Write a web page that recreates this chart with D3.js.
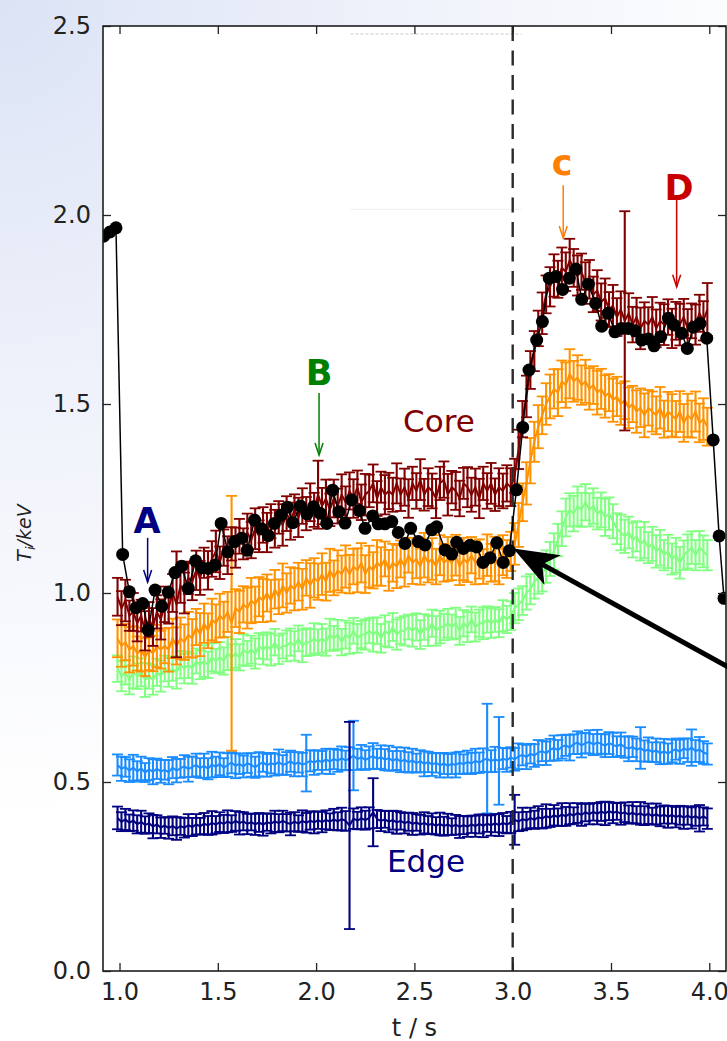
<!DOCTYPE html>
<html><head><meta charset="utf-8">
<script src="https://cdn.jsdelivr.net/npm/d3@7"></script>
<style>html,body{margin:0;padding:0;background:#fff;}svg{display:block;font-family:"DejaVu Sans",sans-serif;}</style>
</head><body><svg id="chart" width="727" height="1041"></svg>
<script>
// ---------------- DATA ----------------
const times = [
0.99,1.01,1.03,1.05,1.07,1.09,1.11,1.13,1.15,1.17,
1.19,1.21,1.23,1.25,1.27,1.29,1.31,1.33,1.35,1.37,
1.39,1.41,1.43,1.45,1.47,1.49,1.51,1.53,1.55,1.57,
1.59,1.61,1.63,1.65,1.67,1.69,1.71,1.73,1.75,1.77,
1.79,1.81,1.83,1.85,1.87,1.89,1.91,1.93,1.95,1.97,
1.99,2.01,2.03,2.05,2.07,2.09,2.11,2.13,2.15,2.17,
2.19,2.21,2.23,2.25,2.27,2.29,2.31,2.33,2.35,2.37,
2.39,2.41,2.43,2.45,2.47,2.49,2.51,2.53,2.55,2.57,
2.59,2.61,2.63,2.65,2.67,2.69,2.71,2.73,2.75,2.77,
2.79,2.81,2.83,2.85,2.87,2.89,2.91,2.93,2.95,2.97,
2.99,3.01,3.03,3.05,3.07,3.09,3.11,3.13,3.15,3.17,
3.19,3.21,3.23,3.25,3.27,3.29,3.31,3.33,3.35,3.37,
3.39,3.41,3.43,3.45,3.47,3.49,3.51,3.53,3.55,3.57,
3.59,3.61,3.63,3.65,3.67,3.69,3.71,3.73,3.75,3.77,
3.79,3.81,3.83,3.85,3.87,3.89,3.91,3.93,3.95,3.97,
3.99];

const coreValues = [
0.99,0.96,0.98,0.94,0.95,0.92,0.94,0.90,0.93,0.91,
0.95,0.93,0.97,0.96,1.00,0.97,1.02,1.00,1.04,1.03,
1.06,1.04,1.08,1.06,1.09,1.11,1.08,1.12,1.10,1.13,
1.12,1.15,1.13,1.16,1.14,1.17,1.15,1.18,1.16,1.19,
1.17,1.20,1.18,1.21,1.19,1.22,1.20,1.23,1.21,1.24,
1.22,1.26,1.23,1.25,1.22,1.25,1.23,1.26,1.24,1.27,
1.25,1.28,1.24,1.26,1.27,1.29,1.25,1.28,1.26,1.27,
1.26,1.29,1.26,1.28,1.25,1.29,1.27,1.30,1.26,1.28,
1.27,1.25,1.29,1.30,1.26,1.28,1.27,1.25,1.29,1.28,
1.26,1.28,1.25,1.29,1.27,1.29,1.26,1.28,1.27,1.29,
1.28,1.31,1.38,1.46,1.52,1.59,1.64,1.70,1.74,1.79,
1.81,1.84,1.83,1.86,1.85,1.88,1.86,1.84,1.85,1.82,
1.83,1.79,1.80,1.77,1.78,1.75,1.76,1.73,1.75,1.72,
1.74,1.71,1.73,1.70,1.72,1.71,1.73,1.70,1.72,1.71,
1.73,1.70,1.72,1.71,1.73,1.70,1.72,1.71,1.74,1.72,
1.75];
const coreErrors = [
0.05,0.045,0.055,0.04,0.05,0.048,0.042,0.052,0.046,0.05,
0.044,0.053,0.047,0.041,0.05,0.14,0.046,0.054,0.043,0.049,
0.052,0.045,0.04,0.051,0.047,0.055,0.043,0.048,0.05,0.044,
0.053,0.046,0.041,0.05,0.048,0.054,0.042,0.047,0.052,0.045,
0.05,0.043,0.055,0.046,0.049,0.041,0.052,0.047,0.044,0.05,
0.045,0.09,0.048,0.05,0.043,0.05,0.046,0.054,0.042,0.049,
0.051,0.044,0.047,0.055,0.043,0.05,0.046,0.041,0.052,0.048,
0.045,0.053,0.043,0.049,0.051,0.044,0.047,0.054,0.042,0.05,
0.046,0.052,0.044,0.048,0.055,0.043,0.05,0.047,0.041,0.053,
0.045,0.049,0.052,0.044,0.047,0.054,0.043,0.05,0.046,0.048,
0.05,0.045,0.052,0.048,0.055,0.05,0.053,0.047,0.055,0.05,
0.052,0.056,0.049,0.054,0.051,0.057,0.05,0.053,0.048,0.055,
0.051,0.047,0.054,0.049,0.052,0.046,0.055,0.05,0.048,0.29,
0.053,0.047,0.051,0.055,0.049,0.046,0.053,0.05,0.048,0.054,
0.047,0.052,0.05,0.055,0.048,0.051,0.046,0.053,0.049,0.052,
0.07];

const orangeValues = [
0.88,0.86,0.87,0.85,0.86,0.84,0.85,0.83,0.85,0.84,
0.86,0.85,0.86,0.85,0.88,0.86,0.88,0.87,0.89,0.88,
0.91,0.89,0.92,0.90,0.93,0.92,0.94,0.93,0.95,0.92,
0.96,0.95,0.97,0.96,0.98,0.97,0.99,0.98,1.00,0.98,
1.01,0.99,1.02,1.00,1.02,1.01,1.03,1.01,1.04,1.02,
1.04,1.03,1.05,1.03,1.06,1.04,1.06,1.05,1.07,1.05,
1.07,1.06,1.08,1.05,1.07,1.06,1.08,1.07,1.09,1.06,
1.08,1.07,1.09,1.07,1.10,1.08,1.09,1.07,1.10,1.08,
1.09,1.07,1.10,1.08,1.09,1.08,1.10,1.07,1.09,1.08,
1.10,1.08,1.09,1.07,1.10,1.08,1.09,1.07,1.10,1.09,
1.11,1.13,1.18,1.24,1.29,1.35,1.40,1.44,1.47,1.50,
1.52,1.54,1.53,1.56,1.55,1.58,1.56,1.57,1.55,1.56,
1.54,1.55,1.53,1.54,1.52,1.53,1.51,1.52,1.50,1.51,
1.49,1.50,1.48,1.49,1.47,1.49,1.48,1.47,1.49,1.46,
1.48,1.47,1.46,1.48,1.45,1.47,1.46,1.48,1.45,1.46,
1.44];
const orangeErrors = [
0.05,0.055,0.048,0.06,0.052,0.045,0.058,0.05,0.054,0.047,
0.056,0.05,0.046,0.058,0.052,0.049,0.055,0.047,0.06,0.051,
0.048,0.057,0.052,0.046,0.055,0.05,0.058,0.047,0.053,0.337,
0.05,0.056,0.048,0.054,0.06,0.047,0.052,0.057,0.049,0.055,
0.051,0.046,0.058,0.052,0.048,0.056,0.05,0.054,0.047,0.059,
0.052,0.048,0.055,0.05,0.057,0.046,0.053,0.049,0.056,0.051,
0.047,0.058,0.052,0.05,0.055,0.048,0.06,0.051,0.046,0.054,
0.05,0.057,0.049,0.053,0.046,0.056,0.051,0.048,0.059,0.052,
0.055,0.047,0.053,0.05,0.058,0.046,0.054,0.049,0.056,0.051,
0.048,0.057,0.052,0.046,0.055,0.05,0.059,0.047,0.053,0.05,
0.052,0.055,0.058,0.05,0.056,0.06,0.053,0.057,0.05,0.055,
0.058,0.052,0.062,0.055,0.06,0.065,0.054,0.059,0.052,0.057,
0.055,0.05,0.058,0.053,0.056,0.049,0.057,0.052,0.055,0.05,
0.054,0.048,0.056,0.051,0.058,0.047,0.053,0.05,0.055,0.049,
0.052,0.056,0.048,0.054,0.05,0.057,0.049,0.053,0.051,0.055,
0.05];

const greenValues = [
0.80,0.78,0.79,0.77,0.79,0.78,0.79,0.77,0.78,0.77,
0.79,0.78,0.80,0.79,0.80,0.79,0.81,0.80,0.81,0.80,
0.82,0.81,0.82,0.81,0.83,0.82,0.83,0.82,0.84,0.83,
0.84,0.83,0.85,0.84,0.85,0.84,0.86,0.85,0.86,0.85,
0.87,0.85,0.86,0.86,0.87,0.86,0.88,0.86,0.87,0.87,
0.88,0.87,0.88,0.87,0.89,0.88,0.89,0.87,0.89,0.88,
0.90,0.88,0.89,0.89,0.90,0.89,0.90,0.88,0.90,0.89,
0.91,0.89,0.90,0.90,0.91,0.90,0.91,0.89,0.91,0.90,
0.92,0.90,0.91,0.91,0.92,0.91,0.92,0.90,0.92,0.91,
0.93,0.91,0.92,0.92,0.93,0.92,0.93,0.92,0.94,0.93,
0.94,0.96,0.97,0.98,1.00,1.01,1.03,1.04,1.05,1.07,
1.09,1.11,1.14,1.17,1.20,1.22,1.21,1.23,1.22,1.24,
1.22,1.23,1.21,1.22,1.20,1.21,1.19,1.17,1.16,1.15,
1.16,1.14,1.15,1.13,1.14,1.12,1.13,1.11,1.12,1.10,
1.11,1.09,1.10,1.08,1.10,1.11,1.12,1.10,1.12,1.11,
1.10];
const greenErrors = [
0.035,0.04,0.032,0.038,0.042,0.034,0.037,0.045,0.033,0.039,
0.036,0.041,0.034,0.038,0.032,0.043,0.036,0.039,0.035,0.04,
0.033,0.038,0.042,0.035,0.037,0.032,0.04,0.036,0.044,0.034,
0.038,0.035,0.041,0.033,0.037,0.04,0.034,0.039,0.036,0.042,
0.035,0.038,0.033,0.041,0.036,0.039,0.034,0.043,0.037,0.035,
0.04,0.034,0.038,0.036,0.042,0.033,0.039,0.035,0.037,0.041,
0.034,0.038,0.036,0.04,0.033,0.045,0.035,0.038,0.041,0.034,
0.037,0.04,0.035,0.039,0.033,0.042,0.036,0.038,0.034,0.04,
0.036,0.039,0.043,0.035,0.038,0.033,0.041,0.037,0.035,0.04,
0.034,0.038,0.036,0.042,0.035,0.039,0.033,0.037,0.041,0.036,
0.038,0.04,0.042,0.038,0.044,0.04,0.045,0.042,0.046,0.043,
0.045,0.048,0.043,0.046,0.05,0.044,0.047,0.052,0.045,0.048,
0.044,0.047,0.042,0.046,0.049,0.043,0.045,0.041,0.047,0.044,
0.042,0.046,0.04,0.044,0.048,0.041,0.045,0.043,0.047,0.04,
0.044,0.041,0.046,0.042,0.039,0.045,0.043,0.04,0.044,0.042,
0.04];

const blueValues = [
0.545,0.535,0.540,0.530,0.538,0.528,0.536,0.525,0.534,0.527,
0.535,0.528,0.532,0.526,0.538,0.530,0.536,0.542,0.534,0.540,
0.545,0.537,0.543,0.535,0.546,0.540,0.548,0.538,0.545,0.551,
0.543,0.548,0.541,0.550,0.545,0.539,0.547,0.552,0.544,0.550,
0.546,0.553,0.545,0.549,0.555,0.547,0.552,0.546,0.550,0.556,
0.551,0.558,0.552,0.560,0.554,0.561,0.556,0.563,0.557,0.562,
0.570,0.560,0.566,0.558,0.564,0.569,0.561,0.566,0.559,0.563,
0.556,0.562,0.554,0.559,0.552,0.557,0.550,0.555,0.548,0.553,
0.546,0.551,0.544,0.549,0.543,0.548,0.545,0.551,0.547,0.553,
0.549,0.556,0.551,0.558,0.562,0.555,0.560,0.556,0.562,0.558,
0.565,0.560,0.568,0.572,0.566,0.575,0.570,0.578,0.582,0.576,
0.585,0.590,0.584,0.593,0.597,0.591,0.600,0.604,0.597,0.603,
0.606,0.599,0.605,0.601,0.596,0.603,0.598,0.594,0.600,0.592,
0.588,0.593,0.585,0.590,0.582,0.586,0.579,0.584,0.576,0.581,
0.575,0.582,0.587,0.580,0.589,0.584,0.591,0.582,0.586,0.578,
0.574];
const blueErrors = [
0.028,0.032,0.026,0.03,0.034,0.027,0.031,0.025,0.029,0.033,
0.027,0.03,0.026,0.032,0.028,0.031,0.025,0.029,0.033,0.027,
0.03,0.026,0.032,0.028,0.034,0.027,0.03,0.025,0.031,0.028,
0.033,0.027,0.029,0.026,0.031,0.028,0.032,0.025,0.03,0.027,
0.029,0.033,0.026,0.03,0.028,0.032,0.027,0.031,0.075,0.028,
0.032,0.026,0.03,0.028,0.033,0.027,0.029,0.031,0.026,0.03,
0.092,0.028,0.032,0.026,0.03,0.034,0.027,0.031,0.028,0.033,
0.026,0.03,0.028,0.032,0.027,0.031,0.025,0.029,0.033,0.027,
0.03,0.026,0.032,0.028,0.031,0.027,0.033,0.029,0.026,0.03,
0.028,0.032,0.027,0.031,0.145,0.029,0.033,0.116,0.028,0.031,
0.027,0.03,0.034,0.028,0.032,0.026,0.03,0.033,0.027,0.031,
0.029,0.033,0.027,0.031,0.028,0.034,0.026,0.03,0.032,0.027,
0.031,0.028,0.033,0.026,0.03,0.029,0.032,0.027,0.031,0.028,
0.033,0.027,0.03,0.055,0.028,0.032,0.026,0.031,0.029,0.033,
0.027,0.03,0.028,0.032,0.026,0.031,0.048,0.029,0.033,0.03,
0.028];

const edgeValues = [
0.405,0.395,0.401,0.392,0.398,0.388,0.395,0.386,0.391,0.382,
0.388,0.379,0.385,0.378,0.384,0.377,0.383,0.379,0.386,0.381,
0.388,0.383,0.390,0.385,0.392,0.387,0.394,0.389,0.396,0.390,
0.397,0.391,0.396,0.389,0.394,0.388,0.393,0.387,0.394,0.390,
0.396,0.391,0.397,0.392,0.389,0.395,0.390,0.397,0.392,0.398,
0.393,0.399,0.394,0.400,0.395,0.401,0.396,0.402,0.397,0.385,
0.403,0.398,0.404,0.399,0.405,0.420,0.402,0.397,0.401,0.395,
0.399,0.393,0.397,0.391,0.395,0.389,0.393,0.387,0.392,0.386,
0.390,0.384,0.389,0.383,0.388,0.382,0.387,0.381,0.386,0.382,
0.388,0.383,0.389,0.384,0.390,0.385,0.391,0.386,0.392,0.387,
0.393,0.400,0.395,0.402,0.398,0.405,0.400,0.407,0.403,0.410,
0.405,0.412,0.407,0.414,0.409,0.416,0.411,0.418,0.413,0.420,
0.415,0.421,0.416,0.422,0.417,0.423,0.418,0.422,0.416,0.420,
0.414,0.419,0.413,0.417,0.411,0.416,0.410,0.415,0.409,0.414,
0.408,0.413,0.407,0.412,0.406,0.411,0.405,0.410,0.404,0.409,
0.403];
const edgeErrors = [
0.03,0.025,0.028,0.022,0.027,0.024,0.029,0.023,0.026,0.031,
0.024,0.027,0.022,0.028,0.025,0.03,0.023,0.026,0.029,0.024,
0.027,0.022,0.028,0.025,0.031,0.023,0.026,0.024,0.029,0.022,
0.026,0.03,0.024,0.027,0.022,0.028,0.025,0.029,0.023,0.026,
0.028,0.024,0.027,0.023,0.03,0.025,0.022,0.028,0.026,0.024,
0.029,0.023,0.027,0.025,0.022,0.028,0.024,0.03,0.026,0.274,
0.027,0.023,0.029,0.025,0.028,0.09,0.024,0.027,0.022,0.028,
0.025,0.03,0.023,0.027,0.024,0.029,0.022,0.026,0.028,0.024,
0.027,0.023,0.03,0.025,0.028,0.022,0.026,0.029,0.024,0.027,
0.023,0.028,0.025,0.03,0.022,0.027,0.024,0.029,0.026,0.023,
0.028,0.066,0.025,0.03,0.023,0.027,0.024,0.029,0.026,0.031,
0.024,0.027,0.023,0.03,0.025,0.028,0.022,0.026,0.029,0.024,
0.027,0.023,0.028,0.025,0.031,0.024,0.027,0.022,0.029,0.026,
0.024,0.028,0.023,0.03,0.025,0.027,0.022,0.028,0.026,0.024,
0.029,0.023,0.027,0.025,0.03,0.024,0.028,0.026,0.035,0.024,
0.027];

// black line + markers (own time base)
const blackTimes = [
0.919,0.951,0.982,1.016,1.050,1.084,1.118,1.146,1.181,1.215,
1.248,1.282,1.316,1.350,1.387,1.418,1.452,1.486,1.517,1.551,
1.585,1.622,1.650,1.687,1.723,1.757,1.788,1.821,1.854,1.881,
1.920,1.954,1.987,2.020,2.054,2.084,2.116,2.147,2.181,2.220,
2.249,2.288,2.316,2.350,2.385,2.418,2.452,2.481,2.520,2.554,
2.588,2.613,2.656,2.690,2.715,2.749,2.783,2.817,2.849,2.885,
2.919,2.952,2.983,3.019,3.051,3.083,3.122,3.151,3.186,3.220,
3.254,3.288,3.322,3.351,3.385,3.422,3.453,3.486,3.520,3.554,
3.588,3.622,3.656,3.690,3.719,3.753,3.792,3.820,3.860,3.888,
3.919,3.953,3.987,4.020,4.050,4.075];
const blackValues = [
1.944,1.955,1.966,1.102,1.003,0.961,0.972,0.902,1.008,0.965,
1.002,1.054,1.071,1.012,1.085,1.067,1.065,1.074,1.184,1.109,
1.136,1.145,1.113,1.193,1.170,1.152,1.184,1.206,1.227,1.186,
1.230,1.209,1.228,1.211,1.184,1.272,1.215,1.185,1.246,1.218,
1.171,1.204,1.183,1.183,1.189,1.160,1.131,1.171,1.136,1.127,
1.167,1.175,1.114,1.103,1.134,1.118,1.126,1.122,1.081,1.093,
1.133,1.081,1.112,1.273,1.438,1.590,1.669,1.718,1.833,1.837,
1.803,1.833,1.857,1.777,1.817,1.766,1.706,1.740,1.691,1.700,
1.700,1.694,1.669,1.672,1.654,1.678,1.727,1.709,1.687,1.647,
1.703,1.713,1.674,1.405,1.151,0.986];

const xTicks = [1.0, 1.5, 2.0, 2.5, 3.0, 3.5, 4.0];
const xTickLabels = ["1.0","1.5","2.0","2.5","3.0","3.5","4.0"];
const yTicks = [0.0, 0.5, 1.0, 1.5, 2.0, 2.5];
const yTickLabels = ["0.0","0.5","1.0","1.5","2.0","2.5"];
const xDomain = [0.916, 4.085];
const yDomain = [0, 2.5];
const markerTime = 3.0;

const seriesNames = ["blue","edge","green","orange","core"];
const seriesColors = {edge:"#000080", blue:"#1a8cff", green:"#80ff80", orange:"#ff9200", core:"#800000"};
const seriesData = {
  edge:{v:edgeValues, e:edgeErrors}, blue:{v:blueValues, e:blueErrors},
  green:{v:greenValues, e:greenErrors}, orange:{v:orangeValues, e:orangeErrors},
  core:{v:coreValues, e:coreErrors}
};

// annotation letters
const letterLabels = ["A","B","c","D"];
const letterColors = ["#000080","#008000","#ff7f00","#c80000"];
const letterPos = [[1.140,1.159],[2.015,1.550],[3.251,2.106],[3.846,2.040]];
const letterArrows = [[1.143,1.146,1.029],[2.015,1.529,1.365],[3.257,2.079,1.939],[3.834,2.048,1.810]];
const regionLabels = ["Core","Edge"];
const regionColors = ["#800000","#000080"];
const regionPos = [[2.625,1.426],[2.559,0.262]];
const bigArrow = {from:[4.16,0.786], to:[3.003,1.118]};

// ---------------- DRAW ----------------
const svg = d3.select("#chart");
const W = 727, H = 1041;
const plot = {left:103, top:26, right:726, bottom:971};
const x = d3.scaleLinear().domain(xDomain).range([plot.left, plot.right]);
const y = d3.scaleLinear().domain(yDomain).range([plot.bottom, plot.top]);

const defs = svg.append("defs");
const rg = defs.append("radialGradient").attr("id","bg").attr("gradientUnits","userSpaceOnUse")
  .attr("cx",0).attr("cy",0).attr("r",820);
rg.append("stop").attr("offset","0").attr("stop-color","#dbe3f5");
rg.append("stop").attr("offset","0.45").attr("stop-color","#eef1fa");
rg.append("stop").attr("offset","1").attr("stop-color","#ffffff");
defs.append("clipPath").attr("id","clip").append("rect")
  .attr("x",plot.left).attr("y",plot.top).attr("width",plot.right-plot.left).attr("height",plot.bottom-plot.top);

svg.append("rect").attr("width",W).attr("height",H).attr("fill","url(#bg)");
svg.append("rect").attr("x",plot.left).attr("y",plot.top).attr("width",plot.right-plot.left)
  .attr("height",plot.bottom-plot.top).attr("fill","#fff");

// faint artifacts of the pasted figure
svg.append("line").attr("x1",x(2.175)).attr("x2",x(3.045)).attr("y1",y(2.479)).attr("y2",y(2.479))
  .attr("stroke","#c8c8c8").attr("stroke-width",1).attr("stroke-dasharray","3,2");
svg.append("line").attr("x1",x(2.175)).attr("x2",x(3.045)).attr("y1",y(2.015)).attr("y2",y(2.015))
  .attr("stroke","#efefef").attr("stroke-width",1);

const dataG = svg.append("g").attr("clip-path","url(#clip)");

seriesNames.forEach(name => {
  const d = seriesData[name];
  const pts = times.map((t,i)=>({t:t, v:d.v[i], e:d.e[i]})).filter(p=>p.v!=null);
  const g = dataG.append("g").attr("stroke",seriesColors[name]).attr("fill","none");
  g.append("path").attr("d", d3.line().x(p=>x(p.t)).y(p=>y(p.v))(pts)).attr("stroke-width",2);
  g.selectAll("line.bar").data(pts).join("line").attr("class","bar")
    .attr("x1",p=>x(p.t)).attr("x2",p=>x(p.t))
    .attr("y1",p=>y(p.v-p.e)).attr("y2",p=>y(p.v+p.e)).attr("stroke-width",2.1);
  g.selectAll("line.capt").data(pts).join("line").attr("class","capt")
    .attr("x1",p=>x(p.t)-5.5).attr("x2",p=>x(p.t)+5.5)
    .attr("y1",p=>y(p.v+p.e)).attr("y2",p=>y(p.v+p.e)).attr("stroke-width",1.8);
  g.selectAll("line.capb").data(pts).join("line").attr("class","capb")
    .attr("x1",p=>x(p.t)-5.5).attr("x2",p=>x(p.t)+5.5)
    .attr("y1",p=>y(p.v-p.e)).attr("y2",p=>y(p.v-p.e)).attr("stroke-width",1.8);
});

// dashed vertical line at t = 3.0
dataG.append("line").attr("x1",x(markerTime)).attr("x2",x(markerTime))
  .attr("y1",plot.top).attr("y2",plot.bottom)
  .attr("stroke","#2a2a2a").attr("stroke-width",2.4).attr("stroke-dasharray","15,9.5");

// black series
const bpts = blackTimes.map((t,i)=>({t:t, v:blackValues[i]})).filter(p=>p.v!=null);
dataG.append("path").attr("d", d3.line().x(p=>x(p.t)).y(p=>y(p.v))(bpts))
  .attr("fill","none").attr("stroke","#000").attr("stroke-width",1.5);
dataG.selectAll("circle.blk").data(bpts).join("circle").attr("class","blk")
  .attr("cx",p=>x(p.t)).attr("cy",p=>y(p.v)).attr("r",6.5).attr("fill","#000");

// axes
const axG = svg.append("g").attr("font-family","'DejaVu Sans',sans-serif");
const xb = axG.append("g").attr("transform",`translate(0,${plot.bottom})`)
  .call(d3.axisBottom(x).tickValues(xTicks).tickFormat((d,i)=>xTickLabels[i]).tickSize(-8).tickSizeOuter(0).tickPadding(12));
const yl = axG.append("g").attr("transform",`translate(${plot.left},0)`)
  .call(d3.axisLeft(y).tickValues(yTicks).tickFormat((d,i)=>yTickLabels[i]).tickSize(-8).tickSizeOuter(0).tickPadding(12));
const xt = axG.append("g").attr("transform",`translate(0,${plot.top})`)
  .call(d3.axisTop(x).tickValues(xTicks).tickFormat("").tickSize(-8).tickSizeOuter(0));
const yr = axG.append("g").attr("transform",`translate(${plot.right},0)`)
  .call(d3.axisRight(y).tickValues(yTicks).tickFormat("").tickSize(-8).tickSizeOuter(0));
[xb,yl,xt,yr].forEach(a=>{
  a.select(".domain").remove();
  a.selectAll(".tick line").attr("stroke","#222").attr("stroke-width",1.3);
  a.selectAll(".tick text").attr("font-size",24).attr("fill","#222").attr("font-family","'DejaVu Sans',sans-serif");
});
axG.append("rect").attr("x",plot.left).attr("y",plot.top).attr("width",plot.right-plot.left)
  .attr("height",plot.bottom-plot.top).attr("fill","none").attr("stroke","#1e1e1e").attr("stroke-width",1.6);

// axis labels
svg.append("text").attr("x",(plot.left+plot.right)/2).attr("y",1036).attr("text-anchor","middle")
  .attr("font-size",24).attr("fill","#222").text("t / s");
const yLab = svg.append("text").attr("transform","translate(31,533) rotate(-90)").attr("text-anchor","middle")
  .attr("font-size",19).attr("fill","#222").attr("font-style","italic");
yLab.append("tspan").text("T");
yLab.append("tspan").attr("font-size",13).attr("dy",4).text("i");
yLab.append("tspan").attr("dy",-4).text("/keV");

// letter annotations
const annG = svg.append("g");
letterLabels.forEach((lab,i)=>{
  const col = letterColors[i];
  annG.append("text").attr("x",x(letterPos[i][0])).attr("y",y(letterPos[i][1]))
    .attr("text-anchor","middle").attr("font-weight","bold").attr("font-size",35).attr("fill",col).text(lab);
  const ax = x(letterArrows[i][0]), y1 = y(letterArrows[i][1]), y2 = y(letterArrows[i][2]);
  annG.append("line").attr("x1",ax).attr("x2",ax).attr("y1",y1).attr("y2",y2)
    .attr("stroke",col).attr("stroke-width",1.5);
  annG.append("path").attr("d",`M${ax-4},${y2-12} L${ax},${y2} L${ax+4},${y2-12}`)
    .attr("fill","none").attr("stroke",col).attr("stroke-width",1.5);
});
regionLabels.forEach((lab,i)=>{
  annG.append("text").attr("x",x(regionPos[i][0])).attr("y",y(regionPos[i][1]))
    .attr("text-anchor","middle").attr("font-size",31).attr("fill",regionColors[i]).text(lab);
});

// big black arrow
{
  const x0 = x(bigArrow.from[0]), y0 = y(bigArrow.from[1]);
  const x1 = x(bigArrow.to[0]), y1 = y(bigArrow.to[1]);
  const dx = x0-x1, dy = y0-y1, L = Math.hypot(dx,dy);
  const ux = dx/L, uy = dy/L, nx = -uy, ny = ux;
  const hl = 45, hw = 17, notch = 33;
  annG.append("line").attr("x1",x0).attr("y1",y0).attr("x2",x1+ux*notch).attr("y2",y1+uy*notch)
    .attr("stroke","#000").attr("stroke-width",5);
  annG.append("path").attr("d",
    `M${x1},${y1} L${x1+ux*hl+nx*hw},${y1+uy*hl+ny*hw} L${x1+ux*notch},${y1+uy*notch} L${x1+ux*hl-nx*hw},${y1+uy*hl-ny*hw} Z`)
    .attr("fill","#000");
}
</script></body></html>
